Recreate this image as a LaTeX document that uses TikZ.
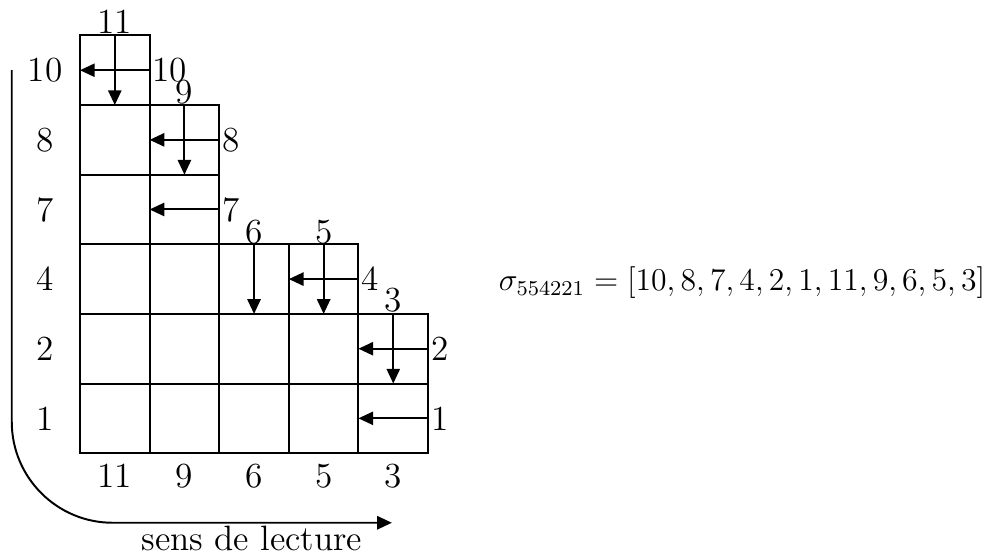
\documentclass[tikz,border=0pt]{standalone}
\usetikzlibrary{arrows.meta}
\begin{document}
\begin{tikzpicture}[x=1cm,y=1cm,line width=0.8pt,
  lbl/.style={font=\Large,inner sep=0.8pt},
  arr/.style={-{Triangle[length=6pt,width=5.4pt]}}]
\useasboundingbox (-1.149,-1.437) rectangle (13.10,6.509);
% cells
\foreach \c/\h in {0/6,1/5,2/3,3/3,4/2}{
  \foreach \r in {1,...,\h}{
    \draw (\c,\r-1) rectangle (\c+1,\r);
  }
}
% left (row) labels
\foreach \y/\t [count=\i] in {5.5/10,4.5/8,3.5/7,2.5/4,1.5/2,0.5/1}
  \node[lbl] (L\i) at (-0.5,\y) {\t};
% right labels
\foreach \x/\y/\t [count=\i] in {1/5.5/10,2/4.5/8,2/3.5/7,4/2.5/4,5/1.5/2,5/0.5/1}
  \node[lbl,anchor=west] (R\i) at (\x,\y) {\t};
% top labels
\foreach \x/\y/\t [count=\i] in {0.5/6.2/11,1.5/5.18/9,2.5/3.18/6,3.5/3.18/5,4.5/2.2/3}
  \node[lbl] (T\i) at (\x,\y) {\t};
% bottom labels
\foreach \x/\t [count=\i] in {0.5/11,1.5/9,2.5/6,3.5/5,4.5/3}
  \node[lbl] (B\i) at (\x,-0.33) {\t};
% horizontal arrows
\foreach \x/\y [count=\i] in {1/5.5,2/4.5,2/3.5,4/2.5,5/1.5,5/0.5}{
  \coordinate (hs\i) at (\x,\y);
  \coordinate (he\i) at (\x-1,\y);
  \draw[arr] (hs\i) -- (he\i);
}
% vertical arrows
\foreach \x/\y [count=\i] in {0.5/6,1.5/5,2.5/3,3.5/3,4.5/2}{
  \coordinate (vs\i) at (\x,\y);
  \coordinate (ve\i) at (\x,\y-1);
  \draw[arr] (vs\i) -- (ve\i);
}
% reading direction
\coordinate (rd0) at (-0.98,5.5);
\coordinate (rd1) at (-0.98,-1.0);
\coordinate (rd2) at (4.48,-1.0);
\draw[arr,rounded corners=1.45cm] (rd0) -- (rd1) -- (rd2);
\node[font=\Large,inner sep=0pt] (sens) at (2.47,-1.23) {sens de lecture};
% formula
\node[font=\large,scale=1.08,inner sep=0pt] (sigma) at (9.51,2.45) {$\sigma_{554221} = [10,8,7,4,2,1,11,9,6,5,3]$};
\end{tikzpicture}
\end{document}
